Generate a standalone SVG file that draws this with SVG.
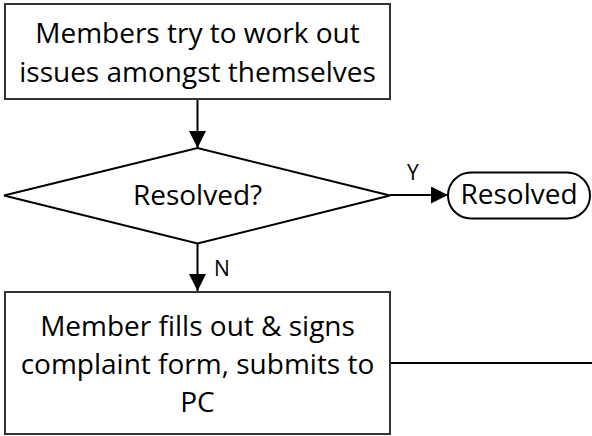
<svg xmlns="http://www.w3.org/2000/svg" width="592" height="436" viewBox="0 0 592 436">
<style>
.box{fill:#fff;stroke:#333;stroke-width:2}
.shape{fill:#fff;stroke:#000;stroke-width:2}
.t{font-family:"Open Sans","Noto Sans",sans-serif;font-size:28px;fill:#000;text-anchor:middle}
.lbl{font-family:"Open Sans","Noto Sans",sans-serif;font-size:21px;fill:#000}
.c{fill:none;stroke:#000;stroke-width:2}
</style>
<defs>
<marker id="arr" viewBox="0 0 17 17" refX="17" refY="8.5" markerWidth="17" markerHeight="17" markerUnits="userSpaceOnUse" orient="auto">
<path d="M0,0 L17,8.5 L0,17 Z" fill="#000"/>
</marker>
</defs>
<rect width="592" height="436" fill="#fff"/>
<g id="connectors">
<line class="c" x1="197.5" y1="100" x2="197.5" y2="148" marker-end="url(#arr)"/>
<line class="c" x1="390" y1="195" x2="448" y2="195" marker-end="url(#arr)"/>
<line class="c" x1="197.5" y1="243.5" x2="197.5" y2="291" marker-end="url(#arr)"/>
<line class="c" x1="390" y1="363" x2="592" y2="363"/>
<text class="lbl" x="407" y="180">Y</text>
<text class="lbl" x="214" y="276">N</text>
</g>
<g id="node-start">
<rect class="box" x="5" y="4" width="385" height="95"/>
<text class="t" x="197.5" y="43">Members try to work out</text>
<text class="t" x="197.5" y="82">issues amongst themselves</text>
</g>
<g id="node-decision">
<polygon class="shape" points="4,195.5 197.5,148 390,195.5 197.5,243.5"/>
<text class="t" x="197.5" y="205">Resolved?</text>
</g>
<g id="node-resolved">
<rect class="shape" x="448" y="172.5" width="142" height="46" rx="23" ry="23"/>
<text class="t" x="519" y="204">Resolved</text>
</g>
<g id="node-complaint">
<rect class="box" x="5" y="292" width="385" height="142"/>
<text class="t" x="197.5" y="336">Member fills out &amp; signs</text>
<text class="t" x="197.5" y="374">complaint form, submits to</text>
<text class="t" x="197.5" y="412">PC</text>
</g>
</svg>
